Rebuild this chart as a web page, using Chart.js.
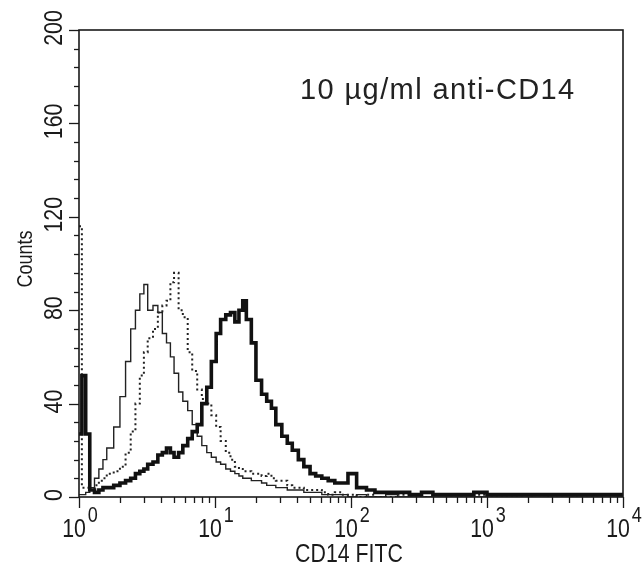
<!DOCTYPE html>
<html>
<head>
<meta charset="utf-8">
<script src="https://cdn.jsdelivr.net/npm/chart.js@4.4.1/dist/chart.umd.min.js"></script>
<style>
  html, body { margin: 0; padding: 0; background: #fff; }
  #wrap { width: 642px; height: 570px; position: relative; }
</style>
</head>
<body>
<div id="wrap"><canvas id="chart" width="642" height="570"></canvas></div>
<script>
// CD14 FITC histogram - counts per fluorescence channel (log scale)

// channel positions (fluorescence intensity)
const channels = [
  1, 1.05, 1.12, 1.2, 1.3, 1.4, 1.5, 1.6, 1.8, 2.0, 2.2, 2.4, 2.6, 2.8, 3.0, 3.2, 3.5,
  3.8, 4.1, 4.4, 4.7, 5.0, 5.4, 5.8, 6.3, 6.8, 7.4, 8.0, 8.7, 9.4, 10.2, 11, 12,
  13, 14, 15, 16, 17, 18.5, 20, 22, 24, 26, 28, 31, 34, 37, 41, 45,
  50, 55, 61, 68, 76, 85, 95, 110, 130, 150, 180, 220, 270, 330, 400, 500,
  650, 800, 1000, 1300, 1700, 2200, 2800, 3500, 4500, 5600, 7000, 8700, 10000
];

// thin solid line
const countsThin = [
  1, 1, 2, 4, 8, 12, 16, 21, 30, 43, 58, 72, 80, 87, 91, 80, 82,
  79, 70, 66, 60, 53, 45, 41, 37, 31, 26, 22, 19, 17, 15, 14, 12,
  11, 10, 9, 8, 8, 7, 7, 6, 5, 5, 4, 4, 3, 3, 3, 2,
  2, 2, 1, 1, 1, 1, 0, 1, 0, 0, 1, 0, 0, 0, 0, 0,
  0, 0, 0, 0, 0, 0, 0, 0, 0, 0, 0, 0, 0
];

// dotted line
const countsDotted = [
  116, 4, 4, 3, 5, 7, 8, 10, 11, 13, 19, 28, 40, 52, 62, 68, 72,
  79, 82, 84, 92, 96, 80, 77, 62, 54, 46, 42, 40, 35, 30, 24, 19,
  16, 13, 12, 11, 11, 10, 10, 9, 10, 8, 7, 7, 5, 4, 4, 3,
  3, 3, 2, 1, 2, 1, 1, 0, 1, 0, 0, 1, 0, 0, 1, 0,
  0, 1, 0, 0, 0, 1, 0, 0, 0, 0, 1, 0, 0
];

// thick solid line (anti-CD14)
const countsThick = [
  27, 52, 27, 3, 2, 3, 4, 4, 5, 6, 7, 8, 10, 11, 12, 14, 15,
  18, 19, 21, 19, 17, 19, 22, 25, 28, 31, 40, 47, 58, 70, 76, 78,
  79, 75, 80, 84, 76, 66, 50, 44, 41, 38, 31, 26, 23, 20, 16, 13,
  10, 9, 8, 7, 6, 6, 10, 4, 3, 2, 2, 2, 1, 2, 1, 1,
  1, 2, 1, 1, 1, 1, 1, 1, 1, 1, 1, 1, 1
];

const yMajorTicks = [0, 40, 80, 120, 160, 200];
const yMinorStep = 8;
const xMajorTicks = [1, 10, 100, 1000, 10000];
const xTickExponents = ['0', '1', '2', '3', '4'];
const xTitle = 'CD14 FITC';
const yTitle = 'Counts';
const annotation = '10 \u00b5g/ml anti-CD14';

function toPoints(counts) {
  return channels.map((c, i) => ({ x: c, y: counts[i] }));
}

// text drawn with a horizontal squeeze to get the narrow axis font
function drawText(ctx, text, x, y, size, align, rot, sx) {
  ctx.save();
  ctx.translate(x, y);
  if (rot) ctx.rotate(rot);
  ctx.scale(sx, 1);
  ctx.font = size + 'px "Liberation Sans", Arial, sans-serif';
  ctx.textAlign = align;
  ctx.textBaseline = 'alphabetic';
  ctx.fillText(text, 0, 0);
  ctx.restore();
}

const axesPlugin = {
  id: 'axesPlugin',
  afterDraw(chart) {
    const ctx = chart.ctx;
    const xs = chart.scales.x;
    const ys = chart.scales.y;
    const area = chart.chartArea;
    ctx.save();
    ctx.strokeStyle = '#1a1a1a';
    ctx.fillStyle = '#1a1a1a';

    // frame
    ctx.lineWidth = 1.6;
    ctx.strokeRect(area.left, area.top, area.right - area.left, area.bottom - area.top);

    // y ticks
    ctx.lineWidth = 1.3;
    for (let v = 0; v <= 200; v += yMinorStep) {
      const y = Math.round(ys.getPixelForValue(v)) + 0.5;
      const major = yMajorTicks.includes(v);
      ctx.beginPath();
      ctx.moveTo(area.left, y);
      ctx.lineTo(area.left - (major ? 10 : 5), y);
      ctx.stroke();
    }
    // x ticks
    xMajorTicks.forEach((d, k) => {
      let x = Math.round(xs.getPixelForValue(d)) + 0.5;
      ctx.beginPath();
      ctx.moveTo(x, area.bottom);
      ctx.lineTo(x, area.bottom + 11);
      ctx.stroke();
      if (k < xMajorTicks.length - 1) {
        for (let m = 2; m <= 9; m++) {
          x = Math.round(xs.getPixelForValue(d * m)) + 0.5;
          ctx.beginPath();
          ctx.moveTo(x, area.bottom);
          ctx.lineTo(x, area.bottom + 6);
          ctx.stroke();
        }
      }
    });

    // y labels (rotated)
    yMajorTicks.forEach(v => {
      const y = ys.getPixelForValue(v) - 2;
      drawText(ctx, String(v), 62, y, 26, 'center', -Math.PI / 2, 0.82);
    });
    drawText(ctx, yTitle, 32, 259, 22, 'center', -Math.PI / 2, 0.82);

    // x labels: 10 with superscript exponent
    ctx.font = '26px "Liberation Sans", Arial, sans-serif';
    const wBase = ctx.measureText('10').width * 0.82;
    ctx.font = '22px "Liberation Sans", Arial, sans-serif';
    xMajorTicks.forEach((d, k) => {
      const wExp = ctx.measureText(xTickExponents[k]).width * 0.82;
      const total = wBase + 2 + wExp;
      const x0 = xs.getPixelForValue(d) - total / 2 + 1;
      drawText(ctx, '10', x0, 537, 26, 'left', 0, 0.82);
      drawText(ctx, xTickExponents[k], x0 + wBase + 2, 522, 22, 'left', 0, 0.82);
      ctx.font = '22px "Liberation Sans", Arial, sans-serif';
    });
    drawText(ctx, xTitle, 349, 562, 26, 'center', 0, 0.82);

    // annotation
    ctx.font = '29px "Liberation Sans", Arial, sans-serif';
    ctx.letterSpacing = '1.4px';
    ctx.fillStyle = '#222';
    ctx.textAlign = 'left';
    ctx.textBaseline = 'alphabetic';
    ctx.fillText(annotation, 300, 99);
    ctx.restore();
  }
};

const ctx = document.getElementById('chart').getContext('2d');
new Chart(ctx, {
  type: 'line',
  data: {
    datasets: [
      {
        label: 'thick',
        data: toPoints(countsThick),
        borderColor: '#111',
        borderWidth: 3.6,
        stepped: true,
        pointRadius: 0,
        fill: false
      },
      {
        label: 'dotted',
        data: toPoints(countsDotted),
        borderColor: '#222',
        borderWidth: 2,
        borderDash: [2, 3],
        stepped: true,
        pointRadius: 0,
        fill: false
      },
      {
        label: 'thin',
        data: toPoints(countsThin),
        borderColor: '#222',
        borderWidth: 1.4,
        stepped: true,
        pointRadius: 0,
        fill: false
      }
    ]
  },
  options: {
    responsive: false,
    animation: false,
    layout: { padding: { left: 79, right: 19, top: 30, bottom: 73 } },
    plugins: {
      legend: { display: false },
      tooltip: { enabled: false }
    },
    scales: {
      x: { type: 'logarithmic', min: 1, max: 10000, display: false },
      y: { type: 'linear', min: 0, max: 200, display: false }
    }
  },
  plugins: [axesPlugin]
});
</script>
</body>
</html>
